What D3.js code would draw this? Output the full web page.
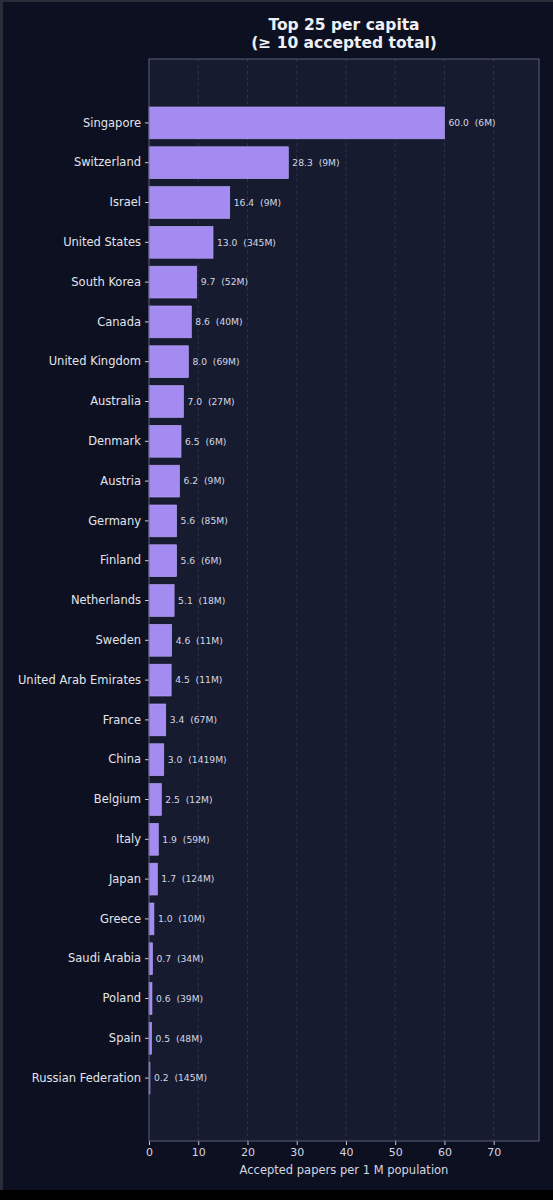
<!DOCTYPE html>
<html>
<head>
<meta charset="utf-8">
<script src="https://cdn.jsdelivr.net/npm/d3@7"></script>
<style>
  html, body { margin: 0; padding: 0; background: #000; }
  svg { display: block; font-family: "DejaVu Sans", sans-serif; }
</style>
</head>
<body>
<svg id="chart"></svg>
<script>
// Data
const countries = ['Singapore', 'Switzerland', 'Israel', 'United States', 'South Korea', 'Canada',
  'United Kingdom', 'Australia', 'Denmark', 'Austria', 'Germany', 'Finland', 'Netherlands', 'Sweden',
  'United Arab Emirates', 'France', 'China', 'Belgium', 'Italy', 'Japan', 'Greece', 'Saudi Arabia',
  'Poland', 'Spain', 'Russian Federation']
const perMillion = [60.0, 28.3, 16.4, 13.0, 9.7, 8.6, 8.0, 7.0, 6.5, 6.2, 5.6, 5.6, 5.1, 4.6,
  4.5, 3.4, 3.0, 2.5, 1.9, 1.7, 1.0, 0.7, 0.6, 0.5, 0.2]
const population = [6, 9, 9, 345, 52, 40, 69, 27, 6, 9, 85, 6, 18, 11, 11, 67, 1419, 12, 59, 124,
  10, 34, 39, 48, 145]
const xTicks = [0, 10, 20, 30, 40, 50, 60, 70]

const rows = countries.map((c, i) => ({ country: c, value: perMillion[i], pop: population[i] }))

// Figure layout
const width = 553
const height = 1200
const plot = { left: 149, right: 539, top: 59, bottom: 1141 }

const svg = d3.select('#chart')
  .attr('width', width)
  .attr('height', height)

// figure background + window edges
svg.append('rect').attr('width', width).attr('height', 1190).attr('fill', '#0d1020')
svg.append('rect').attr('width', 3).attr('height', 1190).attr('fill', '#2a2d38')
svg.append('rect').attr('width', width).attr('height', 2).attr('fill', '#2a2d38')

// plot area background
svg.append('rect')
  .attr('x', plot.left).attr('y', plot.top)
  .attr('width', plot.right - plot.left).attr('height', plot.bottom - plot.top)
  .attr('fill', '#171b30')

const x = d3.scaleLinear()
  .domain([0, 79.2])
  .range([plot.left, plot.right])

const y = d3.scaleBand()
  .domain(countries)
  .range([103, 1098])
  .paddingInner(0.2)
  .paddingOuter(0.1)

// grid lines
svg.append('g')
  .selectAll('line')
  .data(xTicks.slice(1))
  .join('line')
  .attr('x1', d => x(d)).attr('x2', d => x(d))
  .attr('y1', plot.top).attr('y2', plot.bottom)
  .attr('stroke', '#353a55')
  .attr('stroke-width', 0.8)
  .attr('stroke-dasharray', '3,3')

// bars
svg.append('g')
  .selectAll('rect')
  .data(rows)
  .join('rect')
  .attr('x', x(0))
  .attr('y', d => y(d.country))
  .attr('width', d => x(d.value) - x(0))
  .attr('height', y.bandwidth())
  .attr('fill', '#a48bf2')
  .attr('stroke', '#b9a6f7')
  .attr('stroke-width', 0.6)

// value labels
svg.append('g')
  .selectAll('text')
  .data(rows)
  .join('text')
  .attr('x', d => x(d.value) + 4)
  .attr('y', d => y(d.country) + y.bandwidth() / 2)
  .attr('dy', '0.35em')
  .attr('fill', '#d4d7e2')
  .attr('font-size', 9.2)
  .text(d => `${d.value.toFixed(1)}\u00a0\u00a0(${d.pop}M)`)

// y axis
const yAxis = svg.append('g')
  .attr('transform', `translate(${plot.left},0)`)
  .call(d3.axisLeft(y).tickSize(4).tickPadding(4))
yAxis.select('.domain').remove()
yAxis.selectAll('line').attr('stroke', '#c8cbd6')
yAxis.selectAll('text')
  .attr('fill', '#e2e4ec')
  .attr('font-size', 11.5)
  .attr('font-family', '"DejaVu Sans", sans-serif')

// x axis
const xAxis = svg.append('g')
  .attr('transform', `translate(0,${plot.bottom})`)
  .call(d3.axisBottom(x).tickValues(xTicks).tickSize(4).tickPadding(3))
xAxis.select('.domain').remove()
xAxis.selectAll('line').attr('stroke', '#c8cbd6')
xAxis.selectAll('text')
  .attr('fill', '#d4d7e2')
  .attr('font-size', 11)
  .attr('font-family', '"DejaVu Sans", sans-serif')

// plot frame
svg.append('rect')
  .attr('x', plot.left).attr('y', plot.top)
  .attr('width', plot.right - plot.left).attr('height', plot.bottom - plot.top)
  .attr('fill', 'none')
  .attr('stroke', '#5c6079')
  .attr('stroke-width', 1)

// x axis label
svg.append('text')
  .attr('x', (plot.left + plot.right) / 2)
  .attr('y', 1174)
  .attr('text-anchor', 'middle')
  .attr('fill', '#d4d7e2')
  .attr('font-size', 11.5)
  .text('Accepted papers per 1 M population')

// title
const title = svg.append('text')
  .attr('x', (plot.left + plot.right) / 2)
  .attr('text-anchor', 'middle')
  .attr('fill', '#eef0f6')
  .attr('font-size', 15.5)
  .attr('font-weight', 'bold')
title.append('tspan').attr('x', (plot.left + plot.right) / 2).attr('y', 30).text('Top 25 per capita')
title.append('tspan').attr('x', (plot.left + plot.right) / 2).attr('y', 48).text('(\u2265 10 accepted total)')
</script>
</body>
</html>
